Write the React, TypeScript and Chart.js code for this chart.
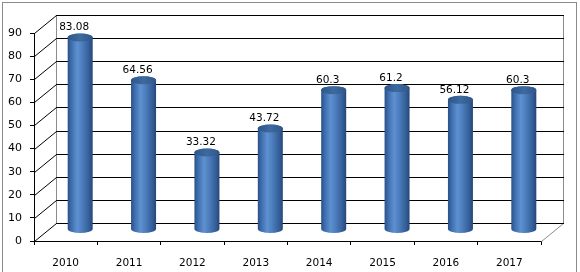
import React, { useEffect, useRef } from 'react';
import { Chart, registerables } from 'chart.js';

Chart.register(...registerables);

const categories = ['2010', '2011', '2012', '2013', '2014', '2015', '2016', '2017'];
const values = [83.08, 64.56, 33.32, 43.72, 60.3, 61.2, 56.12, 60.3];
const yMin = 0;
const yMax = 90;
const yStep = 10;

const FONT = '"DejaVu Sans", Verdana, sans-serif';
const DEPTH_X = 22;
const DEPTH_Y = -18;
const BAR_DX = 14.5;
const BAR_DY = -11.5;
const BAR_RX = 12.5;
const BAR_RY = 4;

const wall3d = {
  id: 'wall3d',
  beforeDraw(chart: any) {
    const { ctx, width, height } = chart;
    ctx.save();
    ctx.fillStyle = '#ffffff';
    ctx.fillRect(0, 0, width, height);
    ctx.strokeStyle = '#8a8a8a';
    ctx.lineWidth = 1;
    ctx.strokeRect(2.5, 2.5, 574, height + 10);
    ctx.restore();
  },
  beforeDatasetsDraw(chart: any) {
    const { ctx, chartArea, scales } = chart;
    const y = scales.y;
    const L = chartArea.left;
    const R = chartArea.right;
    ctx.save();
    ctx.lineWidth = 1;
    const topBack = Math.round(y.getPixelForValue(yMax) + DEPTH_Y) + 0.5;
    const botBack = Math.round(y.getPixelForValue(yMin) + DEPTH_Y) + 0.5;
    // side edges of back wall
    ctx.strokeStyle = '#8c8c8c';
    ctx.beginPath();
    ctx.moveTo(L + DEPTH_X + 0.5, topBack);
    ctx.lineTo(L + DEPTH_X + 0.5, botBack);
    ctx.moveTo(R + DEPTH_X + 0.5, topBack);
    ctx.lineTo(R + DEPTH_X + 0.5, botBack);
    ctx.stroke();
    // floor right diagonal
    ctx.beginPath();
    ctx.moveTo(R + 0.5, y.getPixelForValue(yMin) + 0.5);
    ctx.lineTo(R + DEPTH_X + 0.5, botBack);
    ctx.stroke();
    // gridlines + left diagonals
    ctx.strokeStyle = '#000000';
    y.ticks.forEach((t: any) => {
      const py = y.getPixelForValue(t.value);
      const by = Math.round(py + DEPTH_Y) + 0.5;
      ctx.beginPath();
      ctx.moveTo(L + DEPTH_X, by);
      ctx.lineTo(R + DEPTH_X + 1, by);
      ctx.stroke();
      ctx.beginPath();
      ctx.moveTo(L + 0.5, Math.round(py) + 0.5);
      ctx.lineTo(L + DEPTH_X + 0.5, by);
      ctx.stroke();
    });
    ctx.restore();
  },
  afterDatasetsDraw(chart: any) {
    const { ctx } = chart;
    const meta = chart.getDatasetMeta(0);
    ctx.save();
    meta.data.forEach((el: any, i: number) => {
      const cx = el.x + BAR_DX;
      const yT = el.y + BAR_DY;
      const yB = el.base + BAR_DY;
      const rx = BAR_RX;
      const ry = BAR_RY;
      const g = ctx.createLinearGradient(cx - rx, 0, cx + rx, 0);
      g.addColorStop(0, '#2a4f85');
      g.addColorStop(0.12, '#3a69a8');
      g.addColorStop(0.38, '#5e91d1');
      g.addColorStop(0.55, '#4f80c0');
      g.addColorStop(0.85, '#345f98');
      g.addColorStop(1, '#254678');
      ctx.fillStyle = g;
      ctx.beginPath();
      ctx.moveTo(cx - rx, yT);
      ctx.lineTo(cx - rx, yB);
      ctx.ellipse(cx, yB, rx, ry, 0, Math.PI, 0, true);
      ctx.lineTo(cx + rx, yT);
      ctx.ellipse(cx, yT, rx, ry, 0, 0, Math.PI, true);
      ctx.closePath();
      ctx.fill();
      // top cap
      const cg = ctx.createLinearGradient(cx - rx, 0, cx + rx, 0);
      cg.addColorStop(0, '#2f5688');
      cg.addColorStop(0.5, '#3e6a9f');
      cg.addColorStop(1, '#2f5688');
      ctx.fillStyle = cg;
      ctx.beginPath();
      ctx.ellipse(cx, yT, rx, ry, 0, 0, Math.PI * 2);
      ctx.fill();
      // label
      ctx.fillStyle = '#000000';
      ctx.font = '10.5px ' + FONT;
      ctx.textAlign = 'center';
      ctx.textBaseline = 'middle';
      ctx.fillText(String(values[i]), cx - 6, yT - 10);
    });
    ctx.restore();
  },
};

export default function App() {
  const ref = useRef<HTMLCanvasElement | null>(null);
  useEffect(() => {
    if (!ref.current) return;
    const chart = new Chart(ref.current, {
      type: 'bar',
      data: {
        labels: categories,
        datasets: [
          {
            data: values,
            backgroundColor: 'rgba(0,0,0,0)',
            borderWidth: 0,
            barThickness: 25,
          },
        ],
      },
      options: {
        animation: false,
        responsive: false,
        devicePixelRatio: 1,
        layout: { padding: { left: 0, top: 33, right: 39, bottom: 0 } },
        plugins: { legend: { display: false }, tooltip: { enabled: false } },
        scales: {
          x: {
            offset: true,
            afterFit: (s: any) => {
              s.height = 31;
            },
            grid: {
              offset: true,
              drawOnChartArea: false,
              drawTicks: true,
              tickLength: 4,
              color: '#000000',
            },
            border: { display: true, color: '#000000', width: 1 },
            ticks: {
              autoSkip: false,
              maxRotation: 0,
              padding: 12,
              color: '#000000',
              font: { family: FONT, size: 10.5 },
            },
          },
          y: {
            min: yMin,
            max: yMax,
            afterFit: (s: any) => {
              s.width = 34;
            },
            grid: {
              drawOnChartArea: false,
              drawTicks: true,
              tickLength: 4,
              color: '#000000',
            },
            border: { display: true, color: '#000000', width: 1 },
            ticks: {
              stepSize: yStep,
              padding: 8,
              color: '#000000',
              font: { family: FONT, size: 11 },
            },
          },
        },
      },
      plugins: [wall3d],
    });
    return () => chart.destroy();
  }, []);
  return (
    <div style={{ position: 'fixed', left: 0, top: 0, width: 580, height: 272 }}>
      <canvas ref={ref} width={580} height={272} style={{ display: 'block' }} />
    </div>
  );
}
